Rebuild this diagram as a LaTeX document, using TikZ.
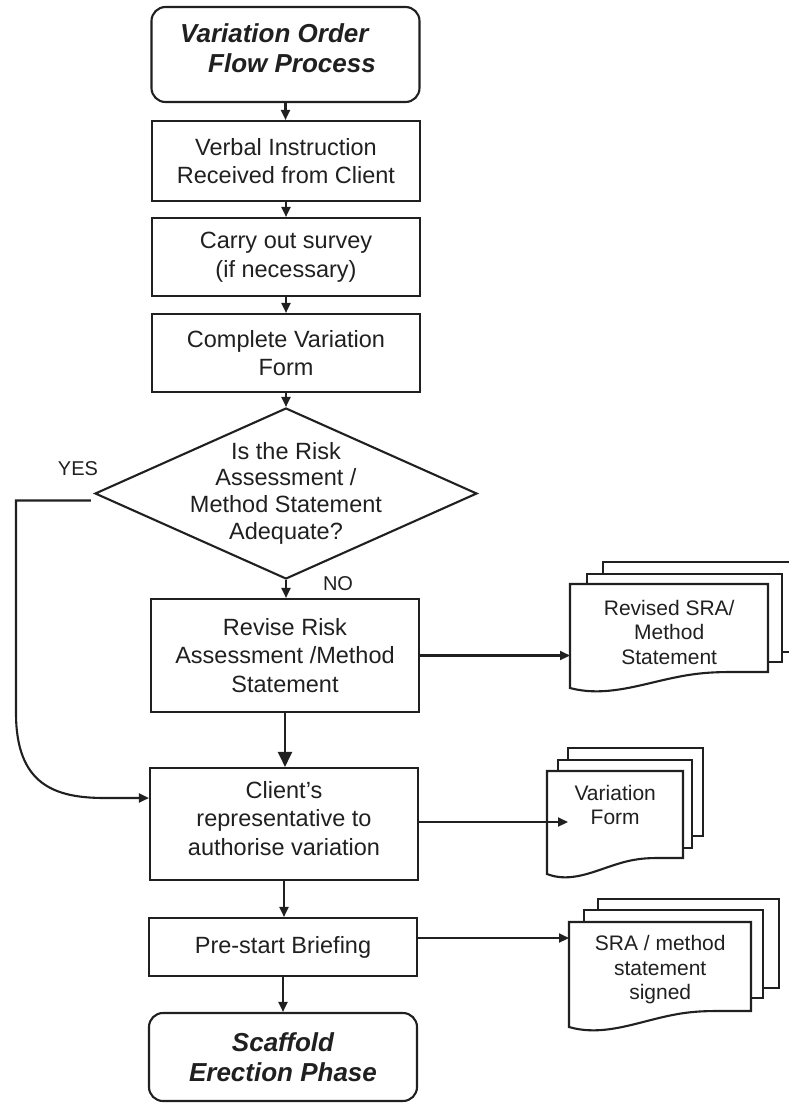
\documentclass[tikz,border=0pt]{standalone}
\usepackage{fontspec}
\setmainfont{Liberation Sans}
\usetikzlibrary{shapes.geometric,arrows.meta,calc}
\definecolor{ink}{RGB}{32,32,32}
\newcommand\boxfont{\fontsize{23.5}{28.5}\selectfont}
\newcommand\docfont{\fontsize{21}{24.5}\selectfont}
\newcommand\termfont{\fontsize{26}{30}\selectfont\bfseries\itshape}
\newcommand\lblfont{\fontsize{20}{24}\selectfont}
% front page of a document stack: x1 x2 ytop yright-bottom
\newcommand\docfront[4]{%
  \path[docline] (#1,#3) -- (#2,#3) -- (#2,#4) -- ({#1+0.82*(#2-#1)},#4)
    .. controls ({#1+0.68*(#2-#1)},#4) and ({#1+0.6*(#2-#1)},{#4+2}) .. ({#1+0.45*(#2-#1)},{#4+9})
    .. controls ({#1+0.3*(#2-#1)},{#4+16}) and ({#1+0.15*(#2-#1)},{#4+24}) .. (#1,{#4+16}) -- cycle;}
\newcommand\docback[4]{\path[docline] (#1,#3) rectangle (#2,#4);}
\tikzset{
 procbox/.style={draw=ink, line width=2.1pt, text=ink, font=\boxfont, align=center, inner sep=0pt, minimum width=268pt},
 termbox/.style={procbox, rounded corners=14pt},
 arr/.style={draw=ink, line width=2.1pt, -{Triangle[length=10pt,width=9pt]}},
 bigarr/.style={draw=ink, line width=2.1pt, -{Triangle[length=15pt,width=14pt]}},
 docline/.style={draw=ink, line width=2.1pt, fill=white},
 doctext/.style={text=ink, font=\docfont, align=center, inner sep=0pt, anchor=west},
 lbl/.style={text=ink, font=\lblfont, inner sep=0pt},
}
\begin{document}
\begin{tikzpicture}[x=1pt, y=-1pt]
\useasboundingbox (0,0) rectangle (789,1106);
\fill[white] (0,0) rectangle (789,1106);

% main column
\node[termbox, minimum height=95pt] (title) at (285.5,54.5) {};
\node[text=ink, font=\termfont, align=left, inner sep=0pt, anchor=west] (titletext) at (180,48) {Variation Order\\\hspace*{28pt}Flow Process};
\node[procbox, minimum height=80pt] (b1) at (286,161) {Verbal Instruction\\Received from Client};
\node[procbox, minimum height=78pt] (b2) at (286,257) {Carry out survey\\(if necessary)};
\node[procbox, minimum height=78pt] (b3) at (286,353) {Complete Variation\\Form};
\node[draw=ink, line width=2.1pt, diamond, minimum width=382pt, minimum height=171pt, inner sep=0pt] (dia) at (286,493.5) {};
\node[text=ink, font=\fontsize{23.5}{26.7}\selectfont, align=center, inner sep=0pt] (diatext) at (286,493) {Is the Risk\\Assessment /\\Method Statement\\Adequate?};
\node[procbox, minimum height=113pt] (rev) at (285,655.5) {Revise Risk\\Assessment /Method\\Statement};
\node[procbox, minimum height=112pt] (cli) at (284,824) {};
\node[text=ink, font=\boxfont, align=center, inner sep=0pt] (clitext) at (284,818.5) {Client's\\representative to\\authorise variation};
\node[procbox, minimum height=58pt] (pre) at (283,947) {Pre-start Briefing};
\node[termbox, minimum height=88pt, font=\termfont] (scaf) at (283,1057) {Scaffold\\Erection Phase};

\node[lbl] (yes) at (78,469) {YES};
\node[lbl] (no) at (338,584) {NO};

% document stacks
\docback{603}{795}{562}{652}
\docback{587}{782}{574}{662}
\docfront{570}{768}{584}{672}
\node[doctext, minimum width=198pt] (revdoc) at (570,632) {Revised SRA/\\Method\\Statement};

\docback{568}{703}{748}{836}
\docback{558}{692}{760}{848}
\docfront{547}{683}{771}{858}
\node[doctext, minimum width=136pt] (vardoc) at (547,805) {Variation\\Form};

\docback{598}{779}{899}{988}
\docback{584}{763}{910}{998}
\docfront{569}{751}{922}{1011}
\node[doctext, minimum width=182pt] (sradoc) at (569,970) {SRA / method\\statement\\signed};

% connectors
\draw[arr] (title.south) -- (title.south |- b1.north);
\draw[arr] (b1.south) -- (b1.south |- b2.north);
\draw[arr] (b2.south) -- (b2.south |- b3.north);
\draw[arr] (b3.south) -- (b3.south |- dia.north);
\draw[arr] (dia.south) -- (dia.south |- rev.north);
\draw[bigarr] (rev.south) -- (rev.south |- cli.north);
\draw[arr] (cli.south) -- (cli.south |- pre.north);
\draw[arr] (pre.south) -- (pre.south |- scaf.north);

\coordinate (yesA) at ($(dia.west)+(-3,7)$);
\draw[arr] (yesA) -- (yesA -| 16,0) -- (16,713) .. controls (16,785) and (55,798) .. (105,798) -- (cli.west |- 0,798);

\draw[arr] (rev.east) -- (rev.east -| revdoc.west);
\draw[arr] ($(cli.east)+(0,-2)$) -- ($(cli.east -| vardoc.west)+(21,-2)$);
\draw[arr] ($(pre.east)+(0,-9)$) -- ($(pre.east -| sradoc.west)+(0,-9)$);
\end{tikzpicture}
\end{document}
